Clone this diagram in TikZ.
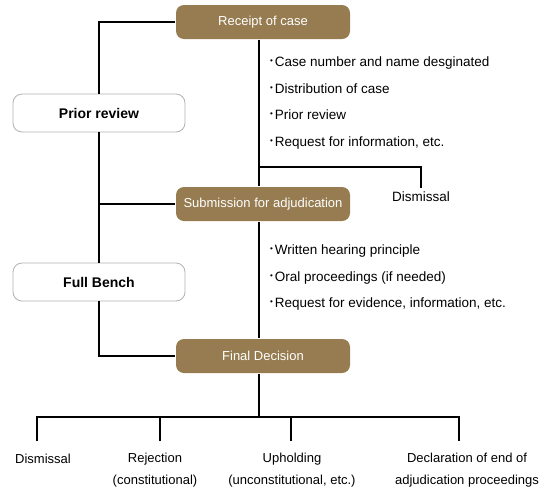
\documentclass[tikz,border=0pt]{standalone}
\usepackage{fontspec}
\setmainfont{Liberation Sans}
\usepackage{xcolor}
\usetikzlibrary{shapes,arrows,positioning,fit,calc}
\definecolor{stagebrown}{RGB}{150,124,80}
\newcommand{\itemdot}{\raisebox{3pt}{\fontsize{8}{8}\selectfont •}\hspace{2pt}}

\begin{document}
\begin{tikzpicture}[x=1pt, y=-1pt, line width=1.4pt,
    font=\fontsize{13.5}{16}\selectfont,
    stage/.style={rectangle, rounded corners=8pt, fill=stagebrown, text=white, minimum width=174pt, minimum height=34pt, font=\fontsize{13}{15}\selectfont},
    bench/.style={rectangle, rounded corners=9pt, draw=black!30, line width=0.8pt, fill=white, minimum width=172pt, minimum height=38pt, font=\fontsize{14}{16}\selectfont\bfseries},
    notes/.style={anchor=north west, align=left, font=\fontsize{13.5}{26.5}\selectfont},
    outcome/.style={align=center, font=\fontsize{13}{22}\selectfont}]
    \useasboundingbox (0,0) rectangle (548,491);

    \node (receipt) [stage] at (263,22) {Receipt of case};
    \node (submission) [stage] at (263,204) {Submission for adjudication};
    \node (final) [stage] at (263,356) {Final Decision};
    \node (prior) [bench] at (99,113) {Prior review};
    \node (full) [bench] at (99,282) {Full Bench};

    \node (intake) [notes] at (266,53) {\itemdot Case number and name desginated\\ \itemdot Distribution of case\\ \itemdot Prior review\\ \itemdot Request for information, etc.};
    \node (hearing) [notes] at (266,241) {\itemdot Written hearing principle\\ \itemdot Oral proceedings (if needed)\\ \itemdot Request for evidence, information, etc.};

    \node (dismiss) at (421,197) {Dismissal};
    \node (out1) [outcome] at (43,459) {Dismissal};
    \node (out2) [outcome] at (155,470) {Rejection\\(constitutional)};
    \node (out3) [outcome] at (292,470) {Upholding\\(unconstitutional, etc.)};
    \node (out4) [outcome] at (467,470) {Declaration of end of\\adjudication proceedings};

    \coordinate (fork1) at (259,167);
    \coordinate (fork2) at (259,417);
    \coordinate (drop1) at (37,441);
    \coordinate (drop2) at (160,441);
    \coordinate (drop3) at (291,441);
    \coordinate (drop4) at (459,441);

    \draw (receipt.west) -| (prior.north);
    \draw (prior.south) -- (full.north);
    \draw (submission.west) -- (submission.west -| prior.south);
    \draw (full.south) |- (final.west);
    \draw ([xshift=-4pt]receipt.south) -- ([xshift=-4pt]submission.north);
    \draw ([xshift=-4pt]submission.south) -- ([xshift=-4pt]final.north);
    \draw (fork1) -| (dismiss.north);
    \draw ([xshift=-4pt]final.south) -- (fork2);
    \draw (drop1) -- (drop1 |- fork2) -- (drop4 |- fork2) -- (drop4);
    \draw (drop2) -- (drop2 |- fork2);
    \draw (drop3) -- (drop3 |- fork2);
\end{tikzpicture}
\end{document}
